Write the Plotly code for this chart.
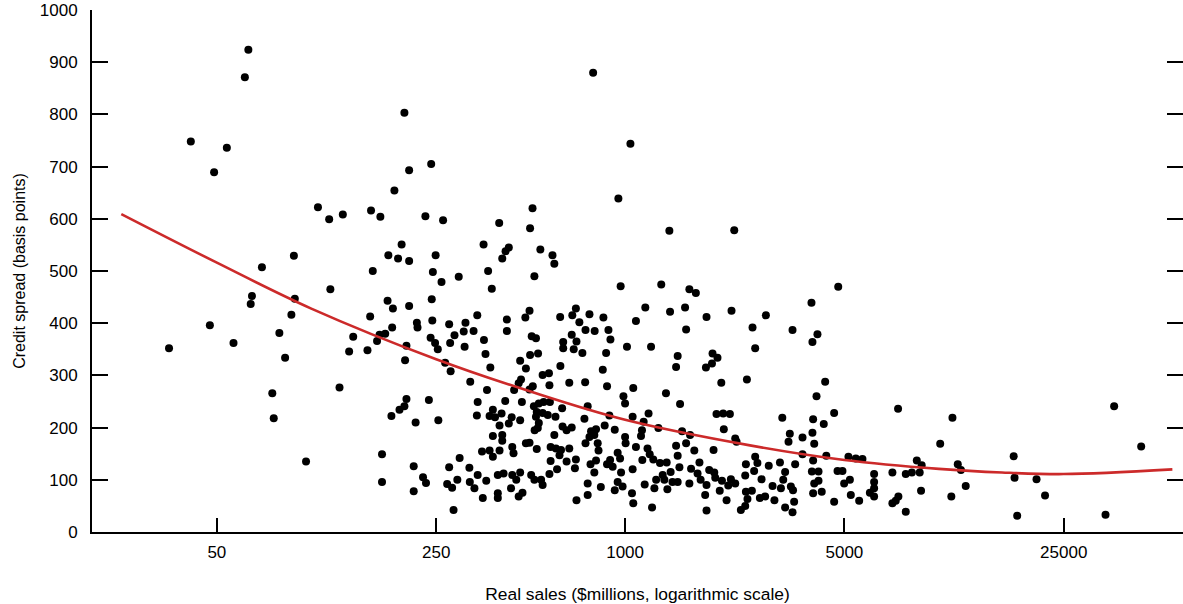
import plotly.graph_objects as go

# ---- data (sales in $millions, spread in basis points) ----
sales = [
    # far left
    63, 61.4, 41.3, 53.8, 49.0, 105, 114, 88.0, 69.6, 115, 64.7, 64.1, 88.6, 86.4, 47.5, 35.2,
    56.5, 79.1, 82.5, 75.1, 75.9, 96.2,
    # 120-300, upper
    198, 241, 205, 184, 126, 155, 166, 231, 263, 194, 176, 189, 205, 249, 157, 244, 260, 295,
    175, 182, 205, 242,
    # 120-340, lower
    154, 181, 172, 165, 136, 162, 132, 151, 201, 199, 217, 218, 243, 240, 248, 253, 275, 286,
    277, 310, 306, 329, 308, 338, 267, 278, 321, 123, 201, 198, 191, 180, 237, 215, 254, 339,
    337, 168, 212, 168, 227, 232, 212, 297, 275, 319, 292, 271, 281, 320, 331, 284, 339,
    # 350-1000, upper
    791, 1040, 952, 507, 397, 498, 354, 426, 416, 406, 537, 587, 595, 366, 514, 376, 968,
    # 350-1000, lower
    420, 420, 481, 496, 621, 679, 697, 715, 770, 853, 748, 800, 885, 898, 355, 359, 504, 520,
    676, 700, 635, 635, 686, 731, 870, 1014, 498, 528, 463, 372, 483, 622, 849, 546, 572, 466,
    458, 508, 496, 574, 664, 746, 876, 363, 443, 415, 469, 512, 531, 550, 576, 523, 520, 546,
    630, 600, 567, 760, 742, 891, 1000, 988, 379, 370, 385, 404, 435, 463, 426, 398, 531, 527,
    515, 632, 651, 676, 861, 927, 779, 808, 379, 406, 406, 595, 483, 496, 523, 579, 602, 625,
    664, 770, 798, 818, 748, 823, 1000, 1004, 350, 370, 379, 398, 437, 441, 618, 651, 697, 692,
    579, 607, 947, 964, 896, 876, 913, 808, 776, 798, 971, 361, 393, 410, 437, 463, 450, 502,
    514, 540, 574, 546, 433, 471, 458, 393, 352, 393, 760, 837, 927, 947, 982, 760, 700,
    # 1000-3500, upper
    1384, 2228, 1304, 1603, 1681,
    # 1000-3500, lower
    1160, 1083, 1391, 1553, 1565, 1818, 2184, 2810, 2548, 3417, 1210, 1471, 1454, 1900, 1970,
    1892, 1810, 2598, 2026, 2445, 1062, 1350, 1497, 1188, 1057, 1956, 2054, 2158, 3170, 1146,
    2064, 1132, 1124, 1277, 1519, 1611, 1565, 1454, 1662, 1914, 2244, 2266, 3350, 3318, 1083,
    1179, 1198, 1471, 1135, 1230, 1292, 1357, 1057, 1490, 1726, 1623, 1702, 1854, 1924, 1938,
    1397, 1318, 1334, 1256, 1155, 1416, 1471, 1240, 1364, 1603, 1741, 1818, 2036, 2174, 2244,
    2132, 2003, 1800, 2106, 1818, 1219, 1062, 1052, 2427, 2598, 2641, 2870, 3116, 3484, 2415,
    2578, 2722, 3237, 3192, 2427, 2536, 2455, 2689, 2795, 2951, 2992, 3376, 3430, 3458, 3237,
    3417, 2339, 2415, 3138,
    # 3500-13000
    4779, 3927, 4103, 3955, 4342, 4075, 4638, 3975, 4298, 3955, 3677, 4007, 7414, 11050, 10100,
    3677, 3975, 4378, 5151, 5437, 5708, 3939, 4135, 4754, 4929, 6218, 7112, 7845, 8203, 8506,
    8816, 8689, 11490, 11760, 4007, 4135, 4991, 5206, 6218, 6218, 3975, 4234, 5241, 6028, 6218,
    4638, 5573, 7431, 7287, 7112, 8776, 10960, 12180, 7845,
    # largest firms
    36200, 44140, 17320, 17430, 20480, 21800, 17770, 33980,
]

spread = [
    924, 871, 748, 736, 689, 622, 599, 529, 507, 465, 452, 437, 447, 416, 396, 352,
    362, 381, 334, 266, 218, 135,
    803, 705, 693, 654, 608, 616, 604, 605, 597, 551, 530, 524, 519, 530, 500, 498, 479, 489,
    443, 428, 433, 446,
    413, 392, 380, 378, 374, 366, 346, 348, 357, 329, 401, 392, 405, 372, 362, 350, 398, 377,
    362, 401, 384, 385, 355, 415, 324, 308, 288, 277, 255, 241, 234, 222, 253, 210, 214, 249,
    223, 149, 126, 96, 105, 94, 78, 142, 124, 123, 100, 92, 85, 96, 84, 42, 109,
    880, 744, 639, 620, 592, 582, 551, 545, 538, 524, 541, 530, 514, 500, 490, 466, 471,
    407, 385, 411, 424, 412, 415, 428, 402, 417, 411, 387, 385, 387, 369, 368, 341, 375, 371,
    378, 365, 364, 352, 350, 343, 343, 355, 339, 342, 328, 315, 313, 318, 311, 301, 304, 292,
    285, 279, 273, 281, 286, 287, 279, 272, 272, 251, 249, 241, 246, 249, 249, 230, 221, 228,
    237, 221, 224, 241, 217, 223, 246, 260, 234, 222, 220, 227, 220, 214, 208, 204, 209, 199,
    195, 202, 195, 200, 204, 196, 193, 197, 184, 186, 175, 186, 170, 171, 159, 163, 160, 157,
    160, 182, 186, 170, 170, 156, 182, 170, 154, 156, 144, 156, 163, 151, 147, 135, 139, 122,
    136, 120, 152, 141, 138, 130, 125, 137, 130, 114, 114, 98, 109, 112, 109, 114, 100, 109,
    100, 100, 111, 90, 84, 75, 68, 74, 65, 65, 93, 86, 80, 96, 87, 71, 61,
    577, 578, 474, 465, 458,
    430, 404, 422, 430, 388, 412, 424, 415, 392, 387, 355, 337, 316, 342, 334,
    323, 315, 352, 286, 292, 276, 266, 245, 227, 221, 226, 227, 226, 219, 211,
    197, 195, 184, 199, 193, 186, 170, 165, 156, 157, 179, 173, 188, 173, 163,
    160, 149, 146, 138, 139, 132, 133, 120, 124, 133, 121, 112, 119, 114, 104,
    115, 109, 100, 100, 91, 96, 96, 84, 82, 93, 100, 90, 98, 101, 93,
    89, 79, 71, 61, 41, 47, 55, 74, 130, 144, 132, 127, 133, 130, 108,
    117, 101, 115, 100, 77, 79, 63, 65, 68, 88, 61, 87, 80, 58, 47,
    38, 42, 50, 84,
    470, 439, 379, 364, 288, 260, 228, 216, 207, 190, 181, 169, 236, 219, 169,
    149, 137, 146, 144, 141, 140, 116, 116, 117, 117, 111, 114, 111, 114, 137,
    128, 114, 130, 119, 93, 98, 93, 100, 96, 84, 74, 77, 71, 75, 68,
    58, 60, 68, 60, 55, 79, 68, 88, 39,
    241, 164, 145, 104, 101, 70, 31, 33,
]

# fitted curve
curve_sales = [24.8, 50, 100, 250, 500, 1000, 2500, 5000, 10000, 15900, 25000, 55500]
curve_spread = [609, 516, 428, 331, 269, 215, 166, 138, 121, 114, 111, 120]

x_ticks = [50, 250, 1000, 5000, 25000]
y_ticks = [0, 100, 200, 300, 400, 500, 600, 700, 800, 900, 1000]

fig = go.Figure()
fig.add_trace(go.Scatter(
    x=sales, y=spread, mode="markers",
    marker=dict(color="black", size=8, line=dict(width=0)),
    hoverinfo="skip",
))
fig.add_trace(go.Scatter(
    x=curve_sales, y=curve_spread, mode="lines", line_shape="spline",
    line=dict(color="#cc2a2a", width=2.6),
    hoverinfo="skip",
))
# empty trace to carry the right-hand tick-only axis
fig.add_trace(go.Scatter(x=[], y=[], yaxis="y2", hoverinfo="skip"))

font_family = "Liberation Sans, Arial, sans-serif"

fig.update_layout(
    width=1183, height=604,
    margin=dict(l=92, r=0, t=10, b=72),
    plot_bgcolor="white", paper_bgcolor="white",
    showlegend=False,
    font=dict(family=font_family, color="black", size=16),
    xaxis=dict(
        type="log", range=[1.30103, 4.77815],
        tickmode="array", tickvals=x_ticks, ticktext=[str(v) for v in x_ticks],
        ticks="inside", ticklen=14, tickwidth=2, tickcolor="black",
        showline=True, linewidth=2, linecolor="black",
        showgrid=False, zeroline=False,
        tickfont=dict(size=17), ticklabelstandoff=4,
        title=dict(text="Real sales ($millions, logarithmic scale)", font=dict(size=17.4), standoff=26),
    ),
    yaxis=dict(
        range=[0, 1000], tickmode="array", tickvals=y_ticks,
        ticks="inside", ticklen=16, tickwidth=2, tickcolor="black",
        showline=True, linewidth=2, linecolor="black",
        showgrid=False, zeroline=False,
        tickfont=dict(size=17), ticklabelstandoff=9,
        title=dict(text="Credit spread (basis points)", font=dict(size=16), standoff=10),
    ),
    yaxis2=dict(
        overlaying="y", side="right", range=[0, 1000],
        tickmode="array", tickvals=y_ticks,
        ticks="inside", ticklen=16, tickwidth=2, tickcolor="black",
        showline=False, showticklabels=False, showgrid=False, zeroline=False,
    ),
)

fig.write_html(
    "out.html",
    config={"displayModeBar": False},
    post_script="document.body.style.margin='0';",
)
